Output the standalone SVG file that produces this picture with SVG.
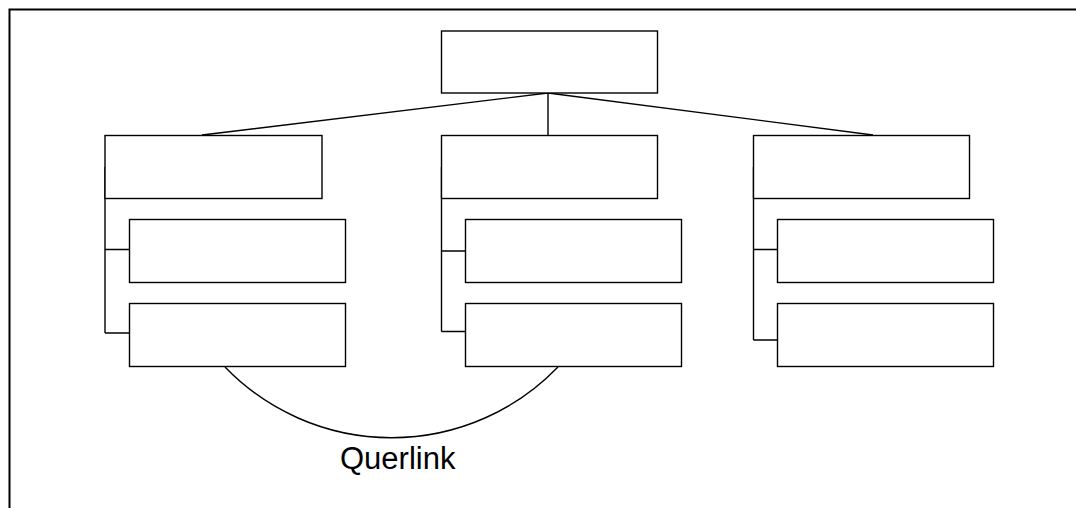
<svg xmlns="http://www.w3.org/2000/svg" width="1076" height="508" viewBox="0 0 1076 508">
<style>
.box{fill:#fff;stroke:#000;stroke-width:1.4}
.con{fill:none;stroke:#000;stroke-width:1.4}
.frame{fill:none;stroke:#000;stroke-width:2}
.lbl{font-family:"Liberation Sans",Arial,sans-serif;font-size:31px;fill:#000}
</style>
<rect width="1076" height="508" fill="#fff"/>
<path class="frame" d="M9.5,508 V9.5 H1076"/>
<g id="connectors">
<path class="con" d="M548,93 L202,135 M548,93 V135 M548,93 L873,135"/>
<path class="con" d="M105,167 V333 M105,249.5 H129 M105,333 H129"/>
<path class="con" d="M441.5,167 V331.5 M441.5,251 H465 M441.5,331.5 H465"/>
<path class="con" d="M753.5,167 V340 M753.5,249.5 H777 M753.5,340 H777"/>
<path class="con" d="M225,367 A231.4,231.4 0 0 0 558,367"/>
<text class="lbl" x="340" y="469">Querlink</text>
</g>
<g id="root"><rect class="box" x="441.5" y="31" width="216" height="62"/></g>
<g id="a"><rect class="box" x="105" y="135.5" width="217" height="63"/></g>
<g id="a1"><rect class="box" x="129.5" y="219.5" width="216" height="63"/></g>
<g id="a2"><rect class="box" x="129.5" y="303.5" width="216" height="63"/></g>
<g id="b"><rect class="box" x="441.5" y="135.5" width="216" height="63"/></g>
<g id="b1"><rect class="box" x="465.5" y="219.5" width="216" height="63"/></g>
<g id="b2"><rect class="box" x="465.5" y="303.5" width="216" height="63"/></g>
<g id="c"><rect class="box" x="753.5" y="135.5" width="216" height="63"/></g>
<g id="c1"><rect class="box" x="777.5" y="219.5" width="216" height="63"/></g>
<g id="c2"><rect class="box" x="777.5" y="303.5" width="216" height="63"/></g>
</svg>
